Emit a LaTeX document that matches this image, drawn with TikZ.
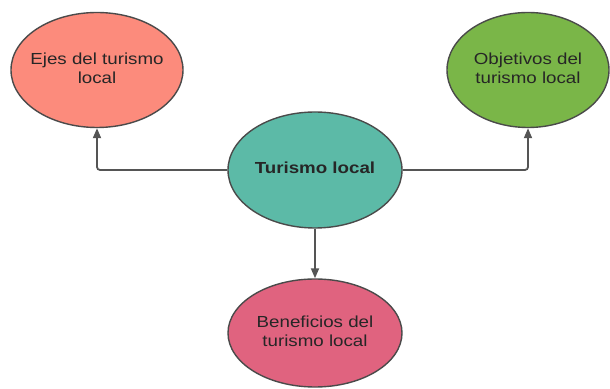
\documentclass[tikz,border=0pt]{standalone}
\usepackage{fontspec}
\setmainfont{Liberation Sans}
\usetikzlibrary{shapes.geometric,arrows.meta}
\definecolor{salmon}{HTML}{FC8B7C}
\definecolor{leaf}{HTML}{7AB648}
\definecolor{teal2}{HTML}{5CBAA7}
\definecolor{rose}{HTML}{E0637F}
\definecolor{edge}{HTML}{4A4A4A}
\definecolor{wire}{HTML}{555555}
\newcommand{\wtxt}[1]{\makebox[0pt][c]{\scalebox{1.17}[1]{\begin{tabular}{@{}c@{}}#1\end{tabular}}}}
\begin{document}
\begin{tikzpicture}[x=1pt,y=1pt,
  bubble/.style={ellipse,draw=edge,line width=1.4pt,inner sep=0pt,
    text=black!85,font=\fontsize{16}{18.8}\selectfont},
  link/.style={draw=wire,line width=1.8pt,rounded corners=3pt,
    -{Triangle[width=8pt,length=10pt]}}]
\useasboundingbox (0,0) rectangle (610,388);
\node[bubble,fill=salmon,minimum width=172pt,minimum height=115pt] (ejes) at (97,318)
  {\wtxt{Ejes del turismo\\local}};
\node[bubble,fill=leaf,minimum width=162pt,minimum height=115pt] (obj) at (528,318)
  {\wtxt{Objetivos del\\turismo local}};
\node[bubble,fill=teal2,minimum width=174pt,minimum height=116pt,font=\fontsize{16}{18.8}\selectfont\bfseries] (tur) at (315,218)
  {\wtxt{Turismo local}};
\node[bubble,fill=rose,minimum width=174pt,minimum height=108pt] (ben) at (315,55)
  {\wtxt{Beneficios del\\turismo local}};
\draw[link] (tur.west) -| (ejes.south);
\draw[link] (tur.east) -| (obj.south);
\draw[link] (tur.south) -- (ben.north);
\end{tikzpicture}
\end{document}
